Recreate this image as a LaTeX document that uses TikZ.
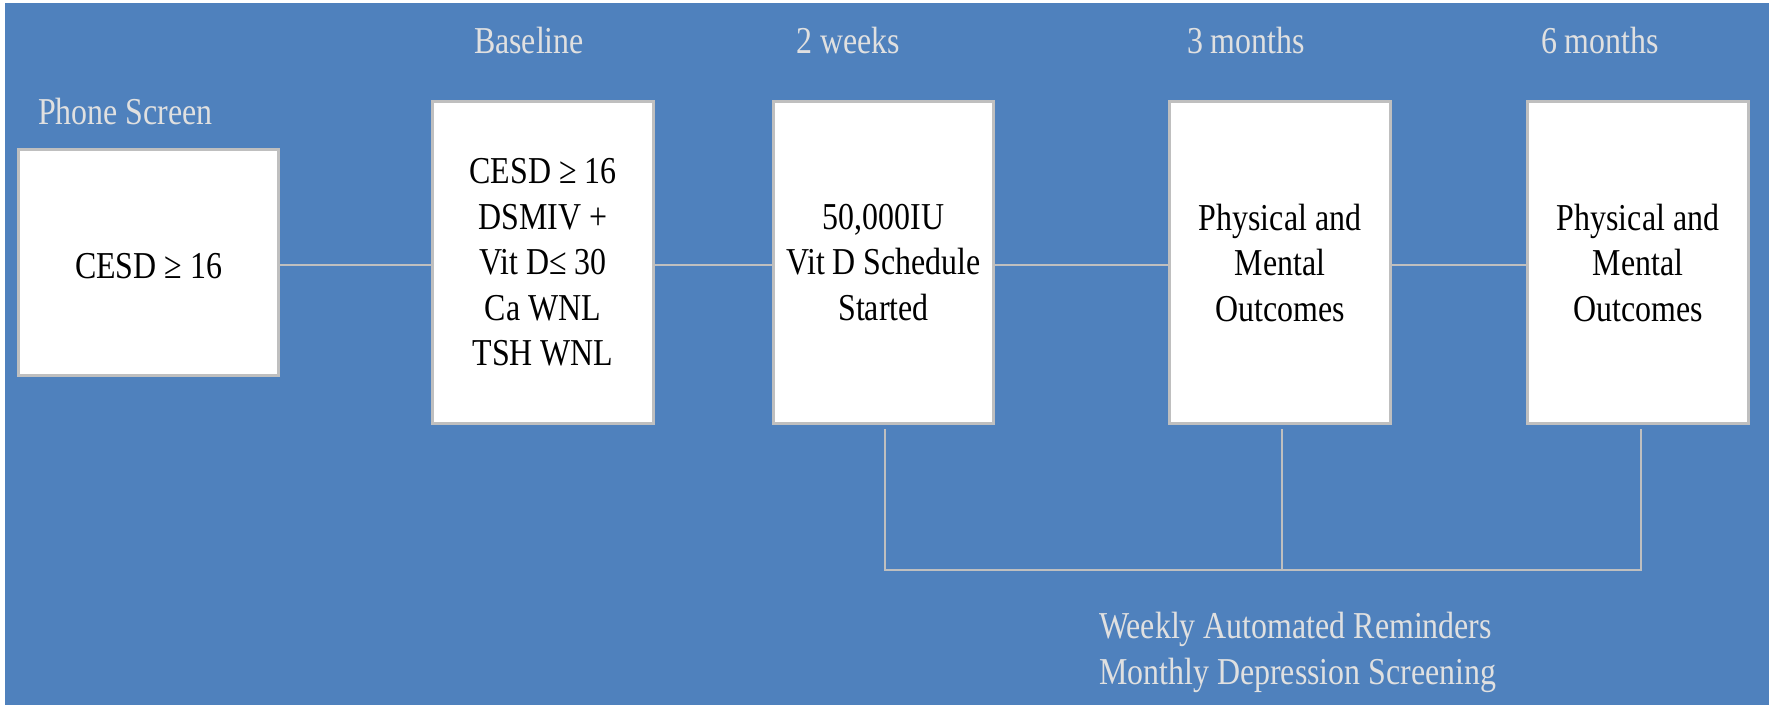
\documentclass[tikz,border=0pt]{standalone}
\usepackage{fontspec}
\setmainfont{Liberation Serif}[FakeStretch=0.84]
\definecolor{bgblue}{HTML}{4F81BD}
\definecolor{edgegray}{HTML}{BFBFBF}
\definecolor{labelgray}{HTML}{E0E0E0}
\begin{document}
\begin{tikzpicture}[x=1pt,y=-1pt,
  every node/.style={font=\fontsize{38}{45.5}\selectfont},
  stage/.style={draw=edgegray, line width=3pt, fill=white, inner sep=0pt,
    align=center, text=black, execute at begin node={\rule{0pt}{32pt}}},
  period/.style={text=labelgray, inner sep=0pt, anchor=base},
  link/.style={draw=edgegray, line width=2.5pt},
  bracket/.style={draw=edgegray, line width=2.5pt}
]
\useasboundingbox (0,0) rectangle (1769,705);
\fill[white] (0,0) rectangle (1769,705);
\fill[bgblue] (5,3) rectangle (1769,705);

% stage boxes
\node[stage, minimum width=260pt, minimum height=226pt] (phone) at (148.5,262.5) {CESD ≥ 16};
\node[stage, minimum width=221pt, minimum height=322pt] (base) at (543,262.5)
  {CESD ≥ 16\\DSMIV +\\Vit D≤ 30\\Ca WNL\\TSH WNL};
\node[stage, minimum width=220pt, minimum height=322pt] (wk) at (883.5,262.5)
  {50,000IU\\Vit D Schedule\\Started};
\node[stage, minimum width=221pt, minimum height=322pt] (three) at (1280,262.5)
  {Physical and\\Mental\\Outcomes};
\node[stage, minimum width=221pt, minimum height=322pt] (six) at (1638,262.5)
  {Physical and\\Mental\\Outcomes};

% time labels
\node[period, anchor=base west] (lphone) at (38,124) {Phone Screen};
\node[period] (lbase) at (529,53) {Baseline};
\node[period] (lwk) at (848,53) {2 weeks};
\node[period] (lthree) at (1246,53) {3 months};
\node[period] (lsix) at (1600,53) {6 months};

% connectors
\draw[link] ([yshift=-2.5pt]phone.east) -- ([yshift=-2.5pt]base.west);
\draw[link] ([yshift=-2.5pt]base.east) -- ([yshift=-2.5pt]wk.west);
\draw[link] ([yshift=-2.5pt]wk.east) -- ([yshift=-2.5pt]three.west);
\draw[link] ([yshift=-2.5pt]three.east) -- ([yshift=-2.5pt]six.west);

% bracket
\coordinate (bb) at (0,570);
\draw[bracket] ([xshift=1.5pt,yshift=-4pt]wk.south) |- ([xshift=3pt]six.south |- bb)
  -- ([xshift=3pt,yshift=-4pt]six.south);
\draw[bracket] ([xshift=2pt,yshift=-4pt]three.south) -- ([xshift=2pt]three.south |- bb);

\node[period, anchor=north west, align=left] (rem) at (1099,612)
  {Weekly Automated Reminders\\Monthly Depression Screening};
\end{tikzpicture}
\end{document}
